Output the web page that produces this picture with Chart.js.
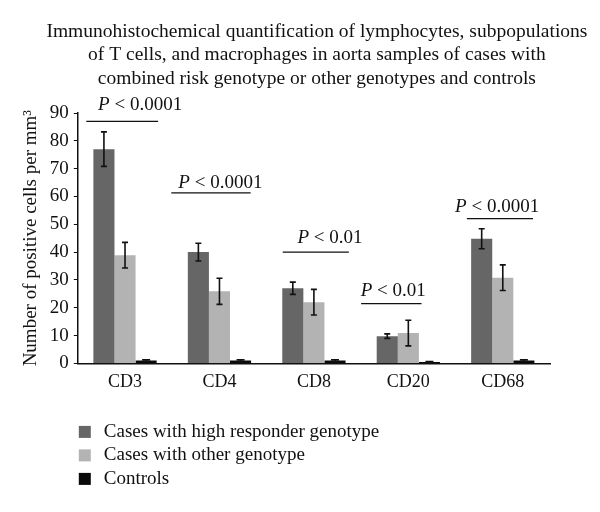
<!DOCTYPE html>
<html>
<head>
<meta charset="utf-8">
<script src="https://cdn.jsdelivr.net/npm/chart.js@4.4.1/dist/chart.umd.min.js"></script>
<style>
  html, body { margin: 0; padding: 0; background: #fff; }
  #wrap { width: 600px; height: 512px; }
</style>
</head>
<body>
<div id="wrap"><canvas id="grafico" width="600" height="512"></canvas></div>
<script>
const categorias = ["CD3", "CD4", "CD8", "CD20", "CD68"];

const altoRespondedor = [77, 40, 27, 9.8, 44.8];
const errAltoRespondedor = [6.2, 3.2, 2.2, 0.8, 3.6];

const otroGenotipo = [38.9, 25.9, 22, 10.9, 30.8];
const errOtroGenotipo = [4.6, 4.7, 4.6, 4.6, 4.6];

const controles = [1, 1, 1, 0.5, 1];
const errControles = [0.3, 0.3, 0.3, 0.2, 0.3];

const textosP = ["P < 0.0001", "P < 0.0001", "P < 0.01", "P < 0.01", "P < 0.0001"];
const alturaP = [87, 61.3, 40, 21.5, 52];

const titulo = [
  "Immunohistochemical quantification of lymphocytes, subpopulations",
  "of T cells, and macrophages in aorta samples of cases with",
  "combined risk genotype or other genotypes and controls",
];

/*
  =========================
     POSICIÓN ANOTACIONES P
  =========================
  (fracción de categoría respecto al centro)
*/
const inicioLineaP = [-0.41, -0.51, -0.33, -0.5, -0.38];
const finLineaP = [0.35, 0.33, 0.37, 0.14, 0.32];
const centroTextoP = [0.16, 0.01, 0.17, -0.16, -0.06];
const separacionTextoP = [11, 5, 9, 8, 7];

const fuente = "'Liberation Serif', 'DejaVu Serif', serif";

const barrasError = {
  id: "barrasError",
  afterDatasetsDraw(chart) {
    const ctx = chart.ctx;
    const y = chart.scales.y;
    const errores = [errAltoRespondedor, errOtroGenotipo, errControles];
    ctx.save();
    ctx.strokeStyle = "#111";
    ctx.lineWidth = 1.6;
    chart.data.datasets.forEach((ds, d) => {
      const meta = chart.getDatasetMeta(d);
      meta.data.forEach((bar, i) => {
        const v = ds.data[i];
        const e = errores[d][i];
        const yTop = y.getPixelForValue(v + e);
        const yBot = y.getPixelForValue(v - e);
        const cap = d === 2 ? 4 : 3;
        ctx.beginPath();
        ctx.moveTo(bar.x, yTop);
        ctx.lineTo(bar.x, yBot);
        ctx.moveTo(bar.x - cap, yTop);
        ctx.lineTo(bar.x + cap, yTop);
        ctx.moveTo(bar.x - cap, yBot);
        ctx.lineTo(bar.x + cap, yBot);
        ctx.stroke();
      });
    });
    ctx.restore();
  },
};

const anotacionesP = {
  id: "anotacionesP",
  afterDraw(chart) {
    const ctx = chart.ctx;
    const x = chart.scales.x;
    const y = chart.scales.y;
    const ancho = x.getPixelForValue(1) - x.getPixelForValue(0);
    ctx.save();
    ctx.strokeStyle = "#111";
    ctx.lineWidth = 1.3;
    ctx.fillStyle = "#111";
    ctx.textBaseline = "alphabetic";
    textosP.forEach((t, i) => {
      const cx = x.getPixelForValue(i);
      const x1 = cx + inicioLineaP[i] * ancho;
      const x2 = cx + finLineaP[i] * ancho;
      const yl = y.getPixelForValue(alturaP[i]);
      ctx.beginPath();
      ctx.moveTo(x1, yl);
      ctx.lineTo(x2, yl);
      ctx.stroke();
      // "P" en cursiva, resto normal
      const resto = t.slice(1);
      ctx.font = "italic 19px " + fuente;
      const wP = ctx.measureText("P").width;
      ctx.font = "19px " + fuente;
      const wR = ctx.measureText(resto).width;
      const tx = cx + centroTextoP[i] * ancho - (wP + wR) / 2;
      const ty = yl - separacionTextoP[i];
      ctx.font = "italic 19px " + fuente;
      ctx.fillText("P", tx, ty);
      ctx.font = "19px " + fuente;
      ctx.fillText(resto, tx + wP, ty);
    });
    ctx.restore();
  },
};

const tituloLeyenda = {
  id: "tituloLeyenda",
  afterDraw(chart) {
    const ctx = chart.ctx;
    const area = chart.chartArea;
    ctx.save();
    ctx.fillStyle = "#111";

    // título
    ctx.font = "19.5px " + fuente;
    ctx.textAlign = "center";
    ctx.textBaseline = "alphabetic";
    const centro = (area.left + area.right) / 2 + 3;
    titulo.forEach((linea, i) => {
      ctx.fillText(linea, centro, area.top - 76 + i * 23.3);
    });

    // leyenda
    ctx.textAlign = "left";
    ctx.textBaseline = "middle";
    ctx.font = "19px " + fuente;
    chart.data.datasets.forEach((ds, d) => {
      const yy = area.bottom + 68.5 + d * 23.5;
      ctx.fillStyle = ds.backgroundColor;
      ctx.fillRect(area.left + 1, yy - 6, 12, 12);
      ctx.fillStyle = "#111";
      ctx.fillText(ds.label, area.left + 26, yy);
    });
    ctx.restore();
  },
};

const grafico = new Chart(document.getElementById("grafico"), {
  type: "bar",
  data: {
    labels: categorias,
    datasets: [
      {
        label: "Cases with high responder genotype",
        data: altoRespondedor,
        backgroundColor: "#666666",
      },
      {
        label: "Cases with other genotype",
        data: otroGenotipo,
        backgroundColor: "#b3b3b3",
      },
      {
        label: "Controls",
        data: controles,
        backgroundColor: "#0a0a0a",
      },
    ],
  },
  options: {
    responsive: false,
    animation: false,
    devicePixelRatio: 1,
    layout: {
      padding: { left: 16, right: 50, top: 113, bottom: 111 },
    },
    datasets: {
      bar: {
        categoryPercentage: 0.67,
        barPercentage: 1,
        borderWidth: 0,
      },
    },
    plugins: {
      legend: { display: false },
      tooltip: { enabled: false },
    },
    scales: {
      x: {
        grid: { display: false, drawTicks: false },
        border: { color: "#111", width: 1.5 },
        ticks: {
          color: "#111",
          padding: 8,
          font: { family: fuente, size: 18 },
        },
      },
      y: {
        min: 0,
        max: 90,
        grid: { drawOnChartArea: false, tickLength: 4, color: "#111" },
        border: { color: "#111", width: 1.5 },
        ticks: {
          stepSize: 10,
          color: "#111",
          padding: 5,
          font: { family: fuente, size: 19 },
        },
        title: {
          display: true,
          text: "Number of positive cells per mm³",
          color: "#111",
          font: { family: fuente, size: 19 },
          padding: { bottom: 2 },
        },
      },
    },
  },
  plugins: [barrasError, anotacionesP, tituloLeyenda],
});
</script>
</body>
</html>
